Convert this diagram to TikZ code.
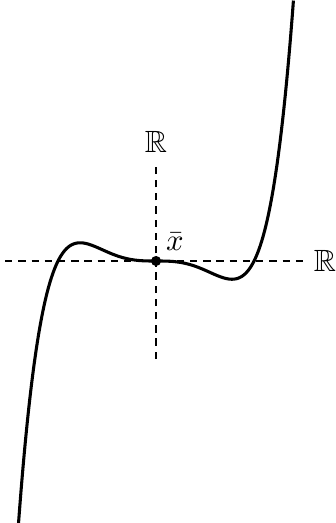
\documentclass[tikz,border=0pt]{standalone}
\usepackage{amsmath,amssymb}
\usepackage{tikz}
\usetikzlibrary{positioning}

\begin{document}
\begin{tikzpicture}[
  x=31.9pt, y=31.9pt,
  axis/.style={semithick, dash pattern=on 2.4pt off 1.9pt},
  curve/.style={line width=1pt},
  dot/.style={circle, fill, inner sep=0pt, minimum size=3.3pt},
  lbl/.style={inner sep=3.3pt}
]
\useasboundingbox (-1.592,-2.673) rectangle (1.827,2.663);

\coordinate (xl) at (-1.54,0);
\coordinate (xr) at (1.5,0);
\coordinate (yb) at (0,-1.0);
\coordinate (yt) at (0,1.0);

\draw[axis] (xl) -- (xr);
\draw[axis] (yb) -- (yt);

\node[lbl, right=0pt of xr] (rx) {$\mathbb{R}$};
\node[lbl, above=0pt of yt] (ry) {$\mathbb{R}$};

\draw[curve, smooth, samples=200, domain=-1.404:1.403]
  plot (\x, {\x*\x*\x*(\x*\x-1)});

\node[dot] (xbar) at (0,0) {};
\node[lbl, anchor=south west, inner sep=1.8pt] (xlab) at (xbar.north east) {$\bar{x}$};
\end{tikzpicture}
\end{document}
